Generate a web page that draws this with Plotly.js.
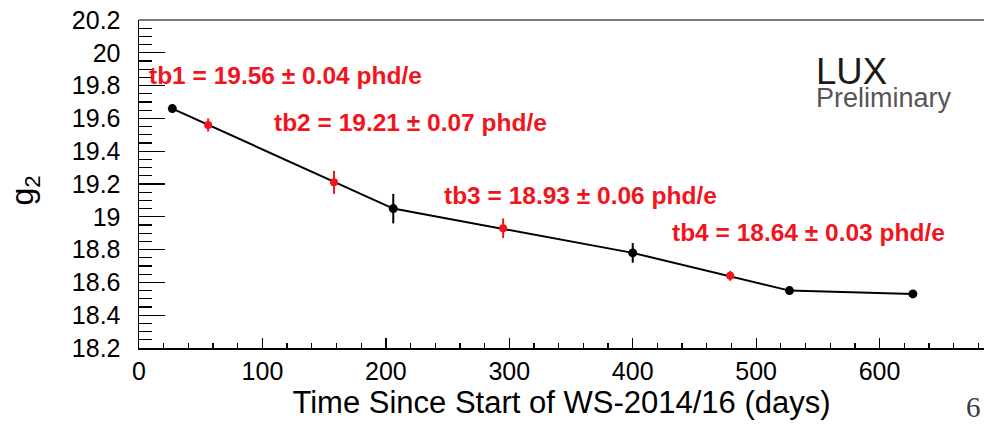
<!DOCTYPE html>
<html>
<head>
<meta charset="utf-8">
<script src="https://cdn.plot.ly/plotly-3.0.1.min.js"></script>
<style>
  html, body { margin: 0; padding: 0; background: #fff; }
  #chart { width: 984px; height: 424px; }
</style>
</head>
<body>
<div id="chart"></div>
<script>
// g2 measurements over the science run (black, connected)
const runDays  = [27, 206, 400, 527, 627];
const runG2    = [19.66, 19.05, 18.78, 18.55, 18.53];
const runG2Err = [0.02, 0.09, 0.06, 0.02, 0.01];

// Time-bin averages (red), one per time bin
const binNames = ['tb1', 'tb2', 'tb3', 'tb4'];
const binDays  = [56, 158, 295, 479];
const binG2    = [19.56, 19.21, 18.93, 18.64];
const binG2Err = [0.04, 0.07, 0.06, 0.03];

// Label placement (paper coordinates) for each time-bin caption
const binLabelX = [0.010, 0.1575, 0.358, 0.6286];
const binLabelY = [0.832, 0.686, 0.466, 0.352];

const RED = '#f2141c';
const FONT = 'Liberation Sans, Arial, Helvetica, sans-serif';

const traces = [
  {
    x: runDays, y: runG2, type: 'scatter', mode: 'lines+markers',
    line: { color: '#000', width: 2 },
    marker: { color: '#000', size: 9 },
    error_y: { type: 'data', array: runG2Err, visible: true, color: '#000', thickness: 2, width: 0 },
    hoverinfo: 'x+y', showlegend: false
  },
  {
    x: binDays, y: binG2, type: 'scatter', mode: 'markers',
    marker: { color: RED, size: 8 },
    error_y: { type: 'data', array: binG2Err, visible: true, color: RED, thickness: 2, width: 0 },
    hoverinfo: 'x+y', showlegend: false
  }
];

const annotations = binNames.map((name, i) => ({
  xref: 'paper', yref: 'paper', x: binLabelX[i], y: binLabelY[i],
  xanchor: 'left', yanchor: 'middle', showarrow: false,
  text: name + ' = ' + binG2[i].toFixed(2) + ' \u00b1 ' + binG2Err[i].toFixed(2) + ' phd/e',
  font: { family: FONT, size: 24.5, color: RED, weight: 'bold' }
}));

annotations.push(
  {
    // experiment tag: two lines, tight spacing
    xref: 'paper', yref: 'paper', x: 0.799, y: 0.81, xanchor: 'left', yanchor: 'middle',
    align: 'left', showarrow: false,
    text: '<span style="font-size:36.5px;fill:#1a1a1a">LUX</span><br>' +
          '<span style="font-size:27px;fill:#555555">Preliminary</span>',
    font: { family: FONT, size: 18, color: '#1a1a1a' }
  },
  {
    xref: 'paper', yref: 'paper', x: -0.135, y: 0.48, xanchor: 'center', yanchor: 'middle',
    showarrow: false, textangle: -90, text: 'g<sub>2</sub>',
    font: { family: FONT, size: 32, color: '#000' }
  },
  {
    // page number
    xref: 'paper', yref: 'paper', x: 0.987, y: -0.2317, xanchor: 'center', yanchor: 'bottom',
    showarrow: false, text: '6', borderpad: 0,
    font: { family: 'Liberation Serif, Times New Roman, serif', size: 29, color: '#3a3a3a' }
  }
);

const layout = {
  width: 984, height: 424,
  margin: { l: 138.5, r: 0, t: 20, b: 76 },
  paper_bgcolor: '#fff', plot_bgcolor: '#fff',
  showlegend: false,
  font: { family: FONT, color: '#000' },
  xaxis: {
    range: [0, 684.6], showgrid: false, zeroline: false,
    showline: true, linecolor: '#000', linewidth: 1.5,
    ticks: 'inside', ticklen: 10, tickwidth: 1.3, tickcolor: '#000',
    dtick: 100, tick0: 0,
    minor: { dtick: 20, ticks: 'inside', ticklen: 5, tickwidth: 1.3, tickcolor: '#000', showgrid: false },
    tickfont: { family: FONT, size: 25, color: '#000' },
    ticklabelstandoff: 0,
    title: { text: 'Time Since Start of WS-2014/16 (days)', font: { family: FONT, size: 31, color: '#000' }, standoff: 8 }
  },
  yaxis: {
    range: [18.2, 20.2], showgrid: false, zeroline: false,
    showline: true, linecolor: '#000', linewidth: 1.5,
    ticks: 'inside', ticklen: 26, tickwidth: 1.3, tickcolor: '#000',
    dtick: 0.2, tick0: 18.2,
    minor: { dtick: 0.05, ticks: 'inside', ticklen: 13, tickwidth: 1.3, tickcolor: '#000', showgrid: false },
    tickfont: { family: FONT, size: 25, color: '#000' },
    ticklabelstandoff: 12
  },
  shapes: [
    { type: 'line', xref: 'paper', yref: 'paper', x0: 0, x1: 1, y0: 1, y1: 1,
      line: { color: '#7a7a7a', width: 2 } }
  ],
  annotations: annotations
};

Plotly.newPlot('chart', traces, layout, { staticPlot: true, displayModeBar: false });
</script>
</body>
</html>
